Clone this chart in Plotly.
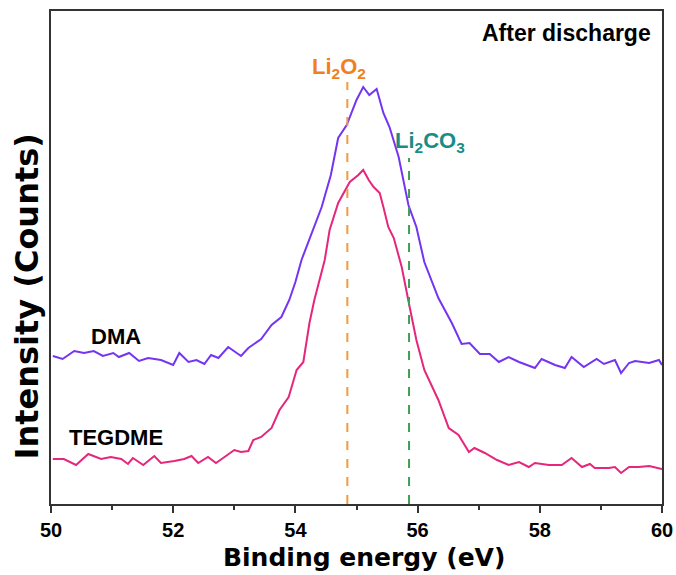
import plotly.graph_objects as go

# ---- data ----
dma_energy = [50.03, 50.19, 50.38, 50.54, 50.70, 50.85, 51.02, 51.11, 51.28, 51.44,
              51.59, 51.80, 52.00, 52.10, 52.25, 52.38, 52.51, 52.62, 52.74, 52.90,
              53.11, 53.23, 53.44, 53.61, 53.77, 53.90, 54.00, 54.10, 54.43, 54.58,
              54.70, 54.84, 55.00, 55.11, 55.21, 55.33, 55.44, 55.54, 55.69, 55.85,
              55.98, 56.11, 56.34, 56.56, 56.72, 56.85, 57.02, 57.18, 57.33, 57.49,
              57.66, 57.92, 58.03, 58.25, 58.41, 58.52, 58.72, 58.93, 59.05, 59.23,
              59.33, 59.46, 59.56, 59.79, 59.95, 60.00]
dma_counts = [148, 145, 153, 151, 153, 148, 151, 147, 151, 143,
              146, 144, 139, 151, 142, 144, 140, 149, 146, 157,
              148, 156, 165, 179, 187, 204, 222, 244, 297, 329,
              366, 379, 404, 417, 409, 415, 391, 377, 347, 299,
              277, 242, 206, 181, 160, 161, 150, 150, 142, 147,
              142, 136, 145, 139, 136, 147, 137, 145, 140, 144,
              131, 141, 143, 141, 144, 139]

teg_energy = [50.03, 50.21, 50.41, 50.61, 50.82, 50.98, 51.15, 51.26, 51.34, 51.51,
              51.69, 51.80, 52.02, 52.18, 52.30, 52.41, 52.57, 52.70, 52.84, 53.00,
              53.11, 53.23, 53.31, 53.44, 53.61, 53.74, 53.89, 54.02, 54.13, 54.23,
              54.31, 54.48, 54.56, 54.70, 54.89, 55.03, 55.11, 55.20, 55.28, 55.38,
              55.44, 55.52, 55.61, 55.74, 55.87, 55.98, 56.11, 56.34, 56.51, 56.67,
              56.84, 56.93, 57.10, 57.30, 57.49, 57.66, 57.82, 57.92, 58.15, 58.36,
              58.52, 58.69, 58.82, 58.90, 59.13, 59.23, 59.33, 59.46, 59.62, 59.79,
              60.00]
teg_counts = [45, 45, 39, 50, 45, 47, 45, 40, 46, 39,
              48, 41, 43, 45, 48, 41, 47, 41, 47, 54,
              52, 53, 64, 67, 76, 94, 107, 134, 142, 181,
              204, 244, 274, 301, 322, 329, 334, 324, 317, 311,
              297, 277, 266, 237, 197, 164, 134, 104, 76, 69,
              52, 56, 51, 44, 39, 42, 37, 41, 39, 39,
              46, 37, 40, 36, 36, 37, 31, 37, 37, 38,
              35]

ref_names = ["Li<sub>2</sub>O<sub>2</sub>", "Li<sub>2</sub>CO<sub>3</sub>"]
ref_energy = [54.85, 55.86]
ref_top = [422, 346]
ref_line_colors = ["#F29A3C", "#3E9E52"]
ref_text_colors = ["#F0801E", "#1A8C86"]

series_names = ["DMA", "TEGDME"]
x_ticks = [50, 52, 54, 56, 58, 60]

FONT = "Liberation Sans, Arial, sans-serif"
WIDE = "DejaVu Sans, Liberation Sans, sans-serif"


def bold(size, color="black", family=FONT):
    return dict(family=family, size=size, color=color, weight="bold")


fig = go.Figure()

fig.add_trace(go.Scatter(x=dma_energy, y=dma_counts, mode="lines", name=series_names[0],
                         line=dict(color="#7434F2", width=2), showlegend=False))
fig.add_trace(go.Scatter(x=teg_energy, y=teg_counts, mode="lines", name=series_names[1],
                         line=dict(color="#E6267C", width=2), showlegend=False))

for e, top, c in zip(ref_energy, ref_top, ref_line_colors):
    fig.add_trace(go.Scatter(x=[e, e], y=[0, top], mode="lines",
                             line=dict(color=c, width=2, dash="dash"),
                             showlegend=False, hoverinfo="skip"))

# reference labels
fig.add_annotation(x=54.71, y=436, xref="x", yref="y", text=ref_names[0],
                   showarrow=False, font=bold(22, ref_text_colors[0]),
                   xanchor="center", yanchor="middle")
fig.add_annotation(x=56.21, y=362, xref="x", yref="y", text=ref_names[1],
                   showarrow=False, font=bold(22, ref_text_colors[1]),
                   xanchor="center", yanchor="middle")

fig.add_annotation(x=0.985, y=0.955, xref="paper", yref="paper", text="After discharge",
                   showarrow=False, font=bold(23),
                   xanchor="right", yanchor="middle")
fig.add_annotation(x=0.106, y=0.339, xref="paper", yref="paper", text=series_names[0],
                   showarrow=False, font=bold(22),
                   xanchor="center", yanchor="middle")
fig.add_annotation(x=0.106, y=0.134, xref="paper", yref="paper", text=series_names[1],
                   showarrow=False, font=bold(22),
                   xanchor="center", yanchor="middle")

# axis titles
fig.add_annotation(x=-0.04, y=0.42, xref="paper", yref="paper", text="Intensity (Counts)",
                   showarrow=False, textangle=-90, font=bold(32, family=WIDE),
                   xanchor="center", yanchor="middle")
fig.add_annotation(x=0.512, y=-0.108, xref="paper", yref="paper", text="Binding energy (eV)",
                   showarrow=False, font=bold(25, family=WIDE),
                   xanchor="center", yanchor="middle")

fig.update_layout(
    width=676, height=575,
    margin=dict(l=51, r=14, t=11, b=71, autoexpand=False),
    paper_bgcolor="white", plot_bgcolor="white",
    font=dict(family=FONT, color="black"),
)
fig.update_xaxes(
    range=[50, 60], tickvals=x_ticks, ticktext=[str(t) for t in x_ticks],
    ticks="outside", ticklen=7, tickwidth=1.5, tickcolor="#333",
    minor=dict(dtick=1, ticks="outside", ticklen=4, tickwidth=1.5, tickcolor="#333"),
    showline=True, linecolor="#333", linewidth=1.5, mirror=True,
    showgrid=False, zeroline=False, automargin=False,
    tickfont=bold(20),
)
fig.update_yaxes(
    range=[0, 493], showticklabels=False, ticks="",
    showline=True, linecolor="#333", linewidth=1.5, mirror=True,
    showgrid=False, zeroline=False, automargin=False,
)

fig.write_html("out.html")
